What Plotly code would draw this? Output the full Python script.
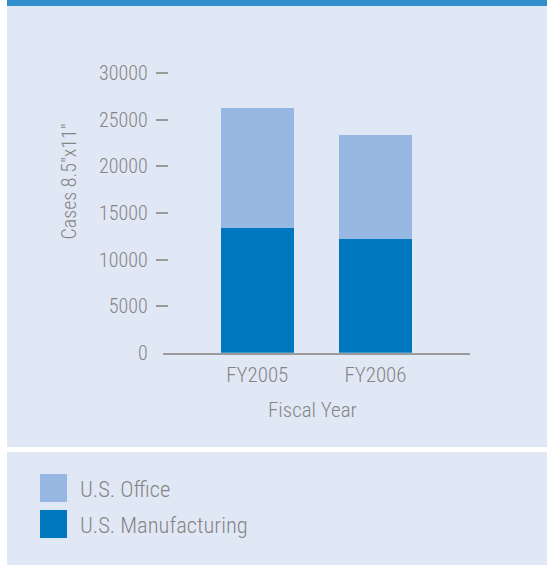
import plotly.graph_objects as go

# Data
years = ["FY2005", "FY2006"]
series_names = ["U.S. Manufacturing", "U.S. Office"]
manufacturing = [13400, 12200]
office = [12850, 11150]
series_colors = ["#0078c0", "#96b8e3"]
y_ticks = [0, 5000, 10000, 15000, 20000, 25000, 30000]
y_tick_text = [str(v) for v in y_ticks]
y_title = 'Cases 8.5"x11"'
x_title = "Fiscal Year"

W, H = 547, 565
FONT = "Roboto Condensed, sans-serif"
TEXT = "#858585"
PANEL = "#e1e8f5"


def px_x(x):
    return x / W


def px_y(y):
    return 1 - y / H


def tfont(size):
    return dict(family=FONT, size=size, color=TEXT, weight=300)


fig = go.Figure()
for name, vals, col in zip(series_names, [manufacturing, office], series_colors):
    fig.add_trace(go.Bar(x=years, y=vals, name=name, marker=dict(color=col, line=dict(width=0)),
                         width=0.62, showlegend=False))
# carrier for the tick-dash axis
fig.add_trace(go.Scatter(x=[], y=[], yaxis="y2", showlegend=False, hoverinfo="skip"))

shapes = [
    dict(type="rect", xref="paper", yref="paper", x0=px_x(7), x1=1, y0=px_y(6), y1=1,
         fillcolor="#318dcc", line=dict(width=0), layer="below"),
    dict(type="rect", xref="paper", yref="paper", x0=px_x(7), x1=1, y0=px_y(447), y1=px_y(6),
         fillcolor=PANEL, line=dict(width=0), layer="below"),
    dict(type="rect", xref="paper", yref="paper", x0=px_x(7), x1=1, y0=0, y1=px_y(452),
         fillcolor=PANEL, line=dict(width=0), layer="below"),
]

annotations = [
    dict(text=y_title, xref="paper", yref="paper", x=px_x(68), y=px_y(181.5), textangle=-90,
         showarrow=False, font=tfont(20), xanchor="center", yanchor="middle"),
    dict(text=x_title, xref="paper", yref="paper", x=px_x(312.5), y=px_y(410),
         showarrow=False, font=tfont(21), xanchor="center", yanchor="middle"),
]

# legend: office on top, manufacturing below
legend_rows = [(series_names[1], series_colors[1], 474), (series_names[0], series_colors[0], 510)]
for name, col, top in legend_rows:
    shapes.append(dict(type="rect", xref="paper", yref="paper", x0=px_x(40), x1=px_x(67),
                       y0=px_y(top + 28), y1=px_y(top), fillcolor=col, line=dict(width=0)))
    annotations.append(dict(text=name, xref="paper", yref="paper", x=px_x(78), y=px_y(top + 15),
                            showarrow=False, xanchor="left", yanchor="middle", font=tfont(22.5)))

y_dom = [px_y(352.7), px_y(73.3)]
fig.update_layout(
    width=W, height=H,
    margin=dict(l=0, r=0, t=0, b=0),
    paper_bgcolor="white",
    plot_bgcolor="rgba(0,0,0,0)",
    barmode="stack",
    font=dict(family=FONT, color=TEXT),
    xaxis=dict(domain=[px_x(162.7), px_x(470)], type="category", range=[-0.8, 1.8],
               showline=True, linecolor="#9a9a9a", linewidth=2, ticks="", showgrid=False,
               tickfont=tfont(21), automargin=False, ticklabelstandoff=2),
    yaxis=dict(domain=y_dom, range=[0, 30000], tickvals=y_ticks, ticktext=y_tick_text, ticks="",
               showgrid=False, zeroline=False, showline=False, automargin=False,
               tickfont=tfont(20), ticklabelstandoff=14),
    yaxis2=dict(overlaying="y", anchor="free", position=px_x(167.7), range=[0, 30000],
                tickvals=y_ticks[1:], ticks="outside", ticklen=12, tickwidth=1.5,
                tickcolor="#9a9a9a", showticklabels=False, showgrid=False, zeroline=False,
                showline=False, automargin=False),
    shapes=shapes,
    annotations=annotations,
)

fig.write_html("out.html")
